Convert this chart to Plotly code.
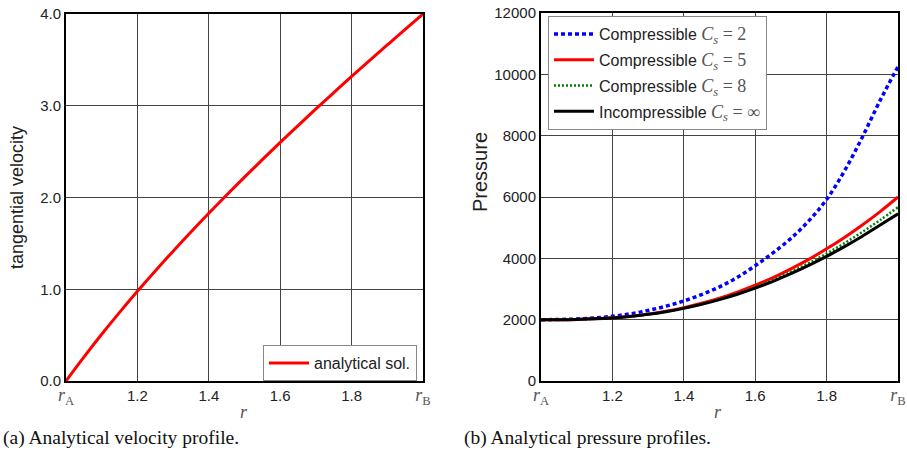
import plotly.graph_objects as go

# ---------------- data ----------------
r_vals = [1.00, 1.05, 1.10, 1.15, 1.20, 1.25, 1.30, 1.35, 1.40, 1.45, 1.50,
          1.55, 1.60, 1.65, 1.70, 1.75, 1.80, 1.85, 1.90, 1.95, 2.00]

velocity = [0.0, 0.260, 0.509, 0.748, 0.978, 1.200, 1.415, 1.625, 1.829, 2.028, 2.222,
            2.413, 2.600, 2.784, 2.965, 3.143, 3.319, 3.492, 3.663, 3.833, 4.000]

p_cs2 = [2000, 2005, 2022, 2055, 2110, 2190, 2300, 2440, 2610, 2820, 3070,
         3380, 3760, 4180, 4650, 5220, 5920, 6850, 7950, 9150, 10250]
p_cs5 = [2000, 2001, 2008, 2027, 2060, 2110, 2181, 2274, 2392, 2533, 2700,
         2898, 3122, 3370, 3655, 3965, 4311, 4683, 5089, 5525, 6000]
p_cs8 = [2000, 2001, 2008, 2026, 2058, 2107, 2176, 2265, 2377, 2511, 2669,
         2853, 3065, 3297, 3558, 3842, 4156, 4494, 4859, 5249, 5666]
p_inc = [2000, 2001, 2008, 2026, 2058, 2106, 2174, 2261, 2369, 2500, 2653,
         2829, 3029, 3252, 3499, 3769, 4063, 4381, 4722, 5087, 5450]

x_tickvals = [1.0, 1.2, 1.4, 1.6, 1.8, 2.0]
MATH = "Liberation Serif"
x_ticktext = [f"<span style=\"font-family:'{MATH}';font-size:18px;color:#555\"><i>r</i><sub>A</sub></span>",
              "1.2", "1.4", "1.6", "1.8",
              f"<span style=\"font-family:'{MATH}';font-size:18px;color:#555\"><i>r</i><sub>B</sub></span>"]
vel_ticks = [0, 1, 2, 3, 4]
vel_ticktext = ["0.0", "1.0", "2.0", "3.0", "4.0"]
p_ticks = [0, 2000, 4000, 6000, 8000, 10000, 12000]
p_ticktext = ["0", "2000", "4000", "6000", "8000", "10000", "12000"]

def cs_label(prefix, val):
    return (f"{prefix} <span style=\"font-family:'{MATH}';font-size:18px;color:#555\">"
            f"<i>C<sub>s</sub></i> = {val}</span>")

W, H = 907, 454
SANS = "Liberation Sans"
TXT = "#222222"

fig = go.Figure()

fig.add_trace(go.Scatter(x=r_vals, y=velocity, mode="lines", name="analytical sol.",
                         line=dict(color="#ff0000", width=3, shape="spline"),
                         xaxis="x", yaxis="y", legend="legend"))

fig.add_trace(go.Scatter(x=r_vals, y=p_cs2, mode="lines", name=cs_label("Compressible", "2"),
                         line=dict(color="#0000ff", width=3.5, dash="4px,3px", shape="spline"),
                         xaxis="x2", yaxis="y2", legend="legend2", legendgroup="a"))
fig.add_trace(go.Scatter(x=r_vals, y=p_cs5, mode="lines", name=cs_label("Compressible", "5"),
                         line=dict(color="#ff0000", width=3, shape="spline"),
                         xaxis="x2", yaxis="y2", legend="legend2", legendgroup="b"))
fig.add_trace(go.Scatter(x=r_vals, y=p_cs8, mode="lines", name=cs_label("Compressible", "8"),
                         line=dict(color="#008000", width=2.5, dash="2px,2px", shape="spline"),
                         xaxis="x2", yaxis="y2", legend="legend2", legendgroup="c"))
fig.add_trace(go.Scatter(x=r_vals, y=p_inc, mode="lines", name=cs_label("Incompressible", "∞"),
                         line=dict(color="#000000", width=3, shape="spline"),
                         xaxis="x2", yaxis="y2", legend="legend2", legendgroup="d"))

def px_x(p):
    return p / W

def px_y(p):
    return 1 - p / H

axis_common = dict(showgrid=True, gridcolor="#444444", gridwidth=1,
                   showline=True, linecolor="black", linewidth=2, mirror=True,
                   ticks="", zeroline=False, automargin=False,
                   tickfont=dict(family=SANS, size=15, color=TXT))

fig.update_layout(
    template="none",
    width=W, height=H,
    margin=dict(l=0, r=0, t=0, b=0, pad=0),
    paper_bgcolor="white", plot_bgcolor="white",
    showlegend=True,
    xaxis=dict(domain=[px_x(66), px_x(423)], range=[1.0, 2.0], tickvals=x_tickvals,
               ticktext=x_ticktext, anchor="y", **axis_common),
    yaxis=dict(domain=[px_y(381), px_y(14)], range=[0, 4], tickvals=vel_ticks,
               ticktext=vel_ticktext, anchor="x", **axis_common),
    xaxis2=dict(domain=[px_x(541), px_x(898)], range=[1.0, 2.0], tickvals=x_tickvals,
                ticktext=x_ticktext, anchor="y2", **axis_common),
    yaxis2=dict(domain=[px_y(381), px_y(13)], range=[0, 12000], tickvals=p_ticks,
                ticktext=p_ticktext, anchor="x2", **axis_common),
    legend=dict(x=px_x(263), y=px_y(345), xanchor="left", yanchor="top",
                bgcolor="white", bordercolor="#888888", borderwidth=1, itemwidth=40,
                font=dict(family=SANS, size=16, color=TXT)),
    legend2=dict(x=px_x(548), y=px_y(16), xanchor="left", yanchor="top",
                 bgcolor="white", bordercolor="#888888", borderwidth=1, itemwidth=40,
                 traceorder="grouped", tracegroupgap=2,
                 font=dict(family=SANS, size=16, color=TXT)),
)

annotations = [
    dict(text="tangential velocity", x=px_x(17), y=px_y(198), textangle=-90,
         font=dict(family=SANS, size=18, color=TXT)),
    dict(text="Pressure", x=px_x(480), y=px_y(172), textangle=-90,
         font=dict(family=SANS, size=20, color=TXT)),
    dict(text="<i>r</i>", x=px_x(244), y=px_y(412),
         font=dict(family=MATH, size=18, color="#555555")),
    dict(text="<i>r</i>", x=px_x(718), y=px_y(412),
         font=dict(family=MATH, size=18, color="#555555")),
    dict(text="(a) Analytical velocity profile.", x=px_x(1), y=px_y(438), xanchor="left",
         font=dict(family=MATH, size=19.5, color="#111111")),
    dict(text="(b) Analytical pressure profiles.", x=px_x(462), y=px_y(438), xanchor="left",
         font=dict(family=MATH, size=19.5, color="#111111")),
]
for a in annotations:
    a.update(xref="paper", yref="paper", showarrow=False, yanchor=a.get("yanchor", "middle"),
             xanchor=a.get("xanchor", "center"))
fig.update_layout(annotations=annotations)

fig.write_html("out.html", config={"displayModeBar": False},
               post_script="document.body.style.margin='0';document.body.style.overflow='hidden';")
